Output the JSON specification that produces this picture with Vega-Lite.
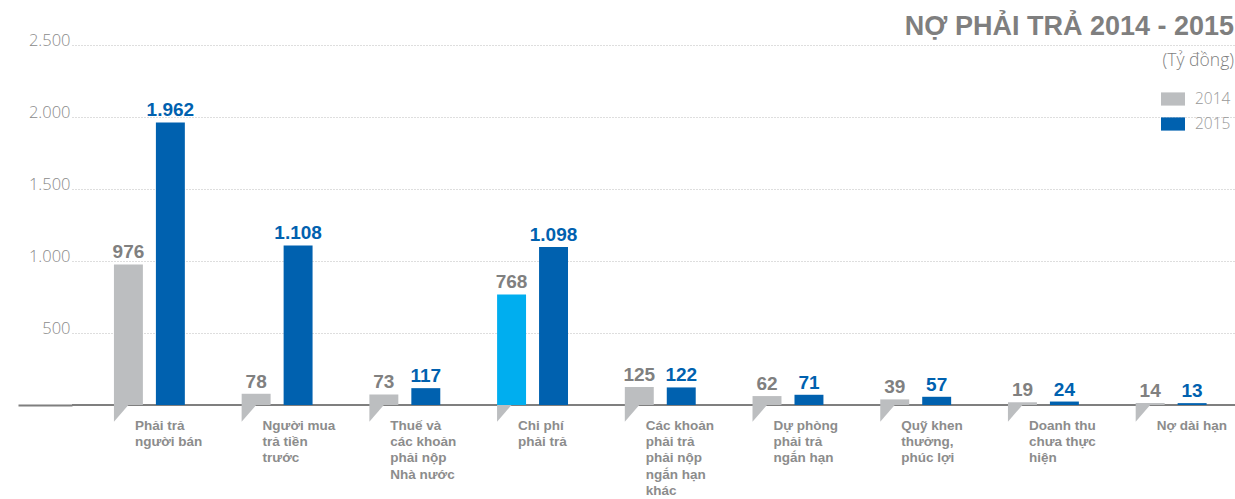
{
  "$schema": "https://vega.github.io/schema/vega-lite/v6.json",
  "width": 1163,
  "height": 360,
  "autosize": {"type": "none"},
  "padding": {"left": 72, "top": 45, "right": 0, "bottom": 94},
  "title": {
    "text": "NỢ PHẢI TRẢ 2014 - 2015",
    "subtitle": "(Tỷ đồng)",
    "anchor": "end",
    "orient": "top",
    "offset": -38,
    "dx": -2,
    "font": "Liberation Sans",
    "fontSize": 27,
    "fontWeight": "bold",
    "color": "#7f7f7f",
    "subtitleFont": "Open Sans",
    "subtitleFontWeight": 300,
    "subtitleFontSize": 17.5,
    "subtitleColor": "#7f7f7f",
    "subtitlePadding": 11
  },
  "config": {
    "view": {"stroke": null},
    "locale": {"number": {"decimal": ",", "thousands": ".", "grouping": [3], "currency": ["", ""]}}
  },
  "data": {
    "values": [
      {"cat": "Phải trả|người bán", "year": "2014", "value": 976},
      {"cat": "Phải trả|người bán", "year": "2015", "value": 1962},
      {"cat": "Người mua|trả tiền|trước", "year": "2014", "value": 78},
      {"cat": "Người mua|trả tiền|trước", "year": "2015", "value": 1108},
      {"cat": "Thuế và|các khoản|phải nộp|Nhà nước", "year": "2014", "value": 73},
      {"cat": "Thuế và|các khoản|phải nộp|Nhà nước", "year": "2015", "value": 117},
      {"cat": "Chi phí|phải trả", "year": "2014", "value": 768},
      {"cat": "Chi phí|phải trả", "year": "2015", "value": 1098},
      {"cat": "Các khoản|phải trả|phải nộp|ngắn hạn|khác", "year": "2014", "value": 125},
      {"cat": "Các khoản|phải trả|phải nộp|ngắn hạn|khác", "year": "2015", "value": 122},
      {"cat": "Dự phòng|phải trả|ngắn hạn", "year": "2014", "value": 62},
      {"cat": "Dự phòng|phải trả|ngắn hạn", "year": "2015", "value": 71},
      {"cat": "Quỹ khen|thưởng,|phúc lợi", "year": "2014", "value": 39},
      {"cat": "Quỹ khen|thưởng,|phúc lợi", "year": "2015", "value": 57},
      {"cat": "Doanh thu|chưa thực|hiện", "year": "2014", "value": 19},
      {"cat": "Doanh thu|chưa thực|hiện", "year": "2015", "value": 24},
      {"cat": "Nợ dài hạn", "year": "2014", "value": 14},
      {"cat": "Nợ dài hạn", "year": "2015", "value": 13}
    ]
  },
  "encoding": {
    "x": {
      "field": "cat",
      "type": "nominal",
      "sort": null,
      "scale": {"paddingInner": 0, "paddingOuter": 0.053, "align": 1},
      "axis": {
        "title": null,
        "ticks": false,
        "domain": false,
        "labelAngle": 0,
        "labelAlign": "left",
        "labelBaseline": "top",
        "labelOffset": -14.5,
        "labelPadding": 13.3,
        "labelExpr": "split(datum.label, '|')",
        "labelFont": "Liberation Sans",
        "labelFontWeight": "bold",
        "labelFontSize": 13.5,
        "labelLineHeight": 16.3,
        "labelColor": "#8c8c8c",
        "labelLimit": 0,
        "labelOverlap": false,
        "labelBound": false,
        "labelFlush": false
      }
    },
    "xOffset": {
      "field": "year",
      "type": "nominal",
      "sort": null,
      "scale": {"paddingInner": 0.31, "paddingOuter": 0.677}
    },
    "y": {
      "field": "value",
      "type": "quantitative",
      "scale": {"domain": [0, 2500], "nice": false},
      "axis": {
        "title": null,
        "values": [0, 500, 1000, 1500, 2000, 2500],
        "format": ",d",
        "labelExpr": "datum.value === 0 ? '' : datum.label",
        "grid": true,
        "gridColor": "#bdbdbd",
        "gridDash": [1, 2],
        "gridWidth": 1,
        "gridOpacity": {"condition": {"test": "datum.value === 0", "value": 0}, "value": 1},
        "ticks": true,
        "tickSize": 54,
        "tickWidth": 2,
        "tickColor": {"condition": {"test": "datum.value === 0", "value": "#7f7f7f"}, "value": "transparent"},
        "domain": false,
        "labelPadding": -52,
        "labelBaseline": "alphabetic",
        "labelFont": "Open Sans",
        "labelFontWeight": 300,
        "labelFontSize": 16.5,
        "labelColor": "#8a8a8a"
      }
    }
  },
  "layer": [
    {
      "mark": {"type": "rule", "color": "#7f7f7f", "strokeWidth": 2},
      "encoding": {"y": {"datum": 0}, "x": null, "xOffset": null}
    },
    {
      "mark": {"type": "bar"},
      "encoding": {
        "color": {
          "condition": {"test": "datum.cat === 'Chi phí|phải trả' && datum.year === '2014'", "value": "#00AEEF"},
          "field": "year",
          "type": "nominal",
          "scale": {"domain": ["2014", "2015"], "range": ["#BCBEC0", "#0061AF"]},
          "legend": {
            "title": null,
            "orient": "none",
            "legendX": 1089,
            "legendY": 42,
            "padding": 0,
            "symbolType": "M-1,-0.55L1,-0.55L1,0.55L-1,0.55Z",
            "symbolSize": 576,
            "symbolStrokeWidth": 0,
            "symbolOpacity": 1,
            "labelFont": "Open Sans",
            "labelFontWeight": 300,
            "labelFontSize": 15.5,
            "labelColor": "#999999",
            "labelOffset": 10,
            "rowPadding": 4
          }
        }
      }
    },
    {
      "transform": [{"filter": "datum.year === '2014'"}],
      "mark": {"type": "point", "filled": true, "shape": "M-1,0L0,0L-1,1.15Z", "size": 841, "color": "#BCBEC0", "opacity": 1, "strokeWidth": 0},
      "encoding": {"y": {"datum": 0}}
    },
    {
      "mark": {"type": "text", "font": "Liberation Sans", "fontWeight": "bold", "fontSize": 19, "baseline": "alphabetic", "align": "center", "dy": -6},
      "encoding": {
        "text": {"field": "value", "type": "quantitative", "format": ",d"},
        "color": {"condition": {"test": "datum.year === '2014'", "value": "#808080"}, "value": "#0061AF"}
      }
    }
  ]
}
